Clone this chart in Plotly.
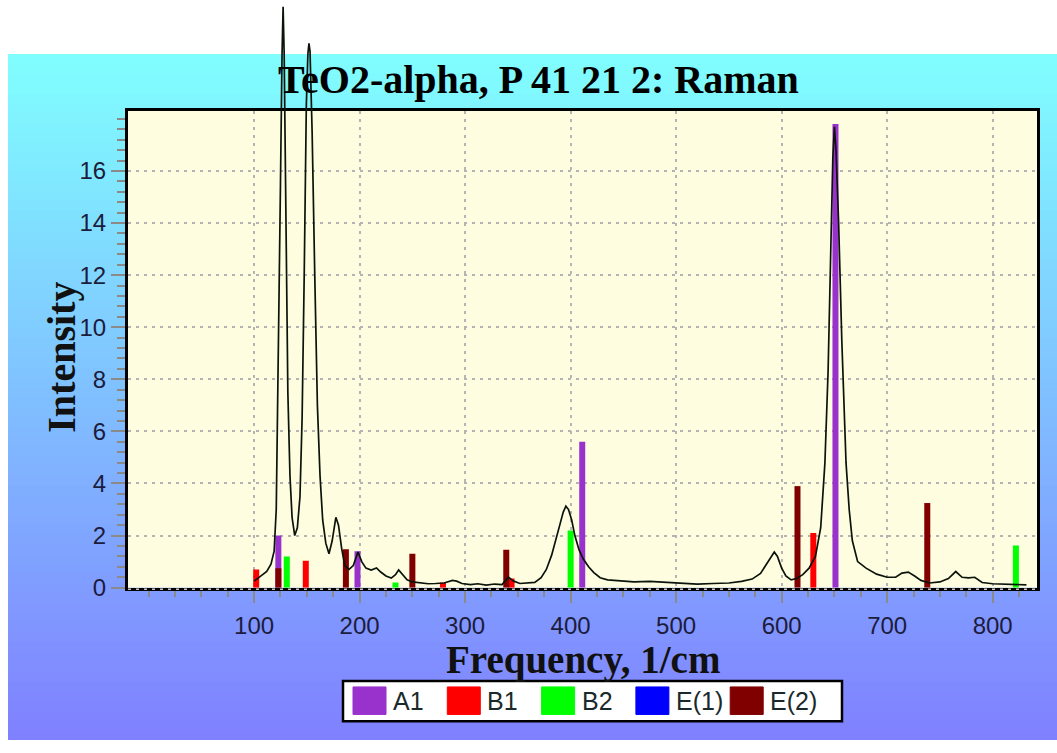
import plotly.graph_objects as go

W, H = 1057, 753

title_text = "TeO2-alpha, P 41 21 2: Raman"
x_title = "Frequency, 1/cm"
y_title = "Intensity"

spec_x = [100, 104, 108, 112, 116, 119, 121, 123, 125, 126.5, 127.5, 128.5, 130, 132, 134, 136,
          138.5, 141, 143.5, 145.5, 147.5, 149.5, 151, 152, 153, 155, 157.5, 160, 162.5, 165, 168,
          171, 174, 177.5, 180, 183, 186, 190, 194, 198.5, 202, 206, 211, 216, 220, 225, 230, 234,
          237, 241, 245, 250, 258, 265, 272, 280, 288, 292, 297, 305, 312, 320, 328, 335, 341, 346,
          352, 360, 366, 372, 377, 382, 386, 390, 393, 395.5, 398, 401, 404, 408, 412, 417, 422,
          428, 435, 445, 460, 475, 490, 505, 520, 535, 550, 562, 572, 580, 586, 590, 593, 596, 600,
          604, 609, 614, 620, 626, 632, 637, 641, 644, 646.5, 648.5, 650, 651.5, 654, 657, 661,
          664, 667, 672, 680, 690, 700, 708, 714, 720, 726, 732, 740, 750, 758, 765, 771, 777, 783,
          790, 800, 815, 832]
spec_y = [0.25, 0.38, 0.48, 0.62, 0.9, 1.4, 3.0, 8.5, 15.5, 20.5, 22.3, 20.5, 14.5, 7.5, 4.3, 2.7,
          2.0, 2.3, 3.5, 6.5, 12.0, 18.5, 20.5, 20.9, 20.6, 17.5, 12.0, 7.0, 4.3, 2.6, 1.7,
          1.3, 1.8, 2.7, 2.4, 1.5, 0.85, 0.7, 0.85, 1.37, 1.0, 0.75, 0.68, 0.76, 0.6, 0.45, 0.37, 0.5,
          0.68, 0.5, 0.3, 0.22, 0.17, 0.15, 0.16, 0.18, 0.28, 0.25, 0.16, 0.12, 0.15, 0.1, 0.14, 0.12,
          0.4, 0.25, 0.16, 0.17, 0.2, 0.38, 0.7, 1.25, 1.8, 2.45, 2.9, 3.13, 3.0, 2.6, 2.0, 1.45,
          1.1, 0.8, 0.58, 0.38, 0.3, 0.26, 0.22, 0.24, 0.2, 0.17, 0.14, 0.16, 0.18, 0.24, 0.33,
          0.55, 0.95, 1.2, 1.37, 1.2, 0.75, 0.45, 0.3, 0.35, 0.5, 0.75, 1.2, 2.3, 4.8, 8.3, 12.5,
          16.5, 17.7, 16.8, 14.0, 9.5, 4.8,
          3.0, 1.8, 1.0, 0.75, 0.52, 0.4, 0.4, 0.56, 0.6, 0.45, 0.28,
          0.18, 0.22, 0.35, 0.62, 0.4, 0.38, 0.4, 0.2, 0.15, 0.13, 0.11]

# calculated modes
series_names = ["A1", "B1", "B2", "E(1)", "E(2)"]
series_colors = ["#9932CC", "#FF0000", "#00FF00", "#0000FF", "#800000"]
a1_x = [123, 198, 411, 651]
a1_y = [2.0, 1.4, 5.6, 17.8]
b1_x = [102, 149, 279, 344, 630]
b1_y = [0.7, 1.03, 0.2, 0.35, 2.1]
b2_x = [131, 234, 400, 822]
b2_y = [1.2, 0.2, 2.2, 1.62]
e1_x = []
e1_y = []
e2_x = [123, 187, 250, 339, 615, 738]
e2_y = [0.75, 1.48, 1.3, 1.46, 3.9, 3.25]

x_ticks = [100, 200, 300, 400, 500, 600, 700, 800]
y_ticks = [0, 2, 4, 6, 8, 10, 12, 14, 16]

x_range = [-19.5, 842]
y_range = [0, 18.3]

# layout geometry (pixels)
px_left, px_right, px_top, px_bottom = 128, 1037, 113, 598
dx = [px_left / W, px_right / W]
dy = [1 - px_bottom / H, 1 - px_top / H]
y2_top = y_range[1] * (1 - dy[0]) / (dy[1] - dy[0])

fig = go.Figure()

series = [(a1_x, a1_y), (b1_x, b1_y), (b2_x, b2_y), (e1_x, e1_y), (e2_x, e2_y)]
for name, color, (xs, ys) in zip(series_names, series_colors, series):
    fig.add_trace(go.Bar(x=xs, y=ys, name=name, width=5.7,
                         marker=dict(color=color, line=dict(width=0)),
                         showlegend=False, xaxis="x", yaxis="y"))

fig.add_trace(go.Scatter(x=spec_x, y=spec_y, mode="lines",
                         line=dict(color="#0a140a", width=1.7),
                         showlegend=False, xaxis="x2", yaxis="y2"))

shapes = []
# background gradient
g_top, g_bottom, g_left = 55, H, 8
n = 70
step = (g_bottom - g_top) / n
c_top = (128, 255, 255)
c_bot = (128, 128, 255)
for i in range(n):
    t = (i + 0.5) / n
    c = tuple(round(a + (b - a) * t) for a, b in zip(c_top, c_bot))
    y0 = g_top + i * step
    y1 = y0 + step + 0.8
    shapes.append(dict(type="rect", xref="paper", yref="paper", layer="below",
                       x0=g_left / W, x1=1, y0=1 - min(y1, H) / H, y1=1 - y0 / H,
                       fillcolor="rgb(%d,%d,%d)" % c, line=dict(width=0)))
# plot area background
shapes.append(dict(type="rect", xref="paper", yref="paper", layer="below",
                   x0=dx[0], x1=dx[1], y0=dy[0], y1=dy[1],
                   fillcolor="#FFFDE0", line=dict(width=0)))
# dotted pattern on the baseline
shapes.append(dict(type="line", xref="paper", yref="paper", layer="above",
                   x0=dx[0], x1=dx[1], y0=dy[0] - 1.5 / H, y1=dy[0] - 1.5 / H,
                   line=dict(color="#c8c8c8", width=1.5, dash="3px,5px")))

# custom legend
leg_x0, leg_x1, leg_y0, leg_y1 = 343, 842, 693, 734
shapes.append(dict(type="rect", xref="paper", yref="paper", layer="above",
                   x0=leg_x0 / W, x1=leg_x1 / W, y0=1 - leg_y1 / H, y1=1 - leg_y0 / H,
                   fillcolor="white", line=dict(color="black", width=2.5)))
annotations = []
sw0, sw_step, sw_w = 353, 94.3, 33
for i, (name, color) in enumerate(zip(series_names, series_colors)):
    sx = sw0 + i * sw_step
    shapes.append(dict(type="rect", xref="paper", yref="paper", layer="above",
                       x0=sx / W, x1=(sx + sw_w) / W, y0=1 - 727 / H, y1=1 - 699 / H,
                       fillcolor=color, line=dict(color=color, width=1)))
    annotations.append(dict(text=name, xref="paper", yref="paper", x=(sx + sw_w + 5) / W,
                            y=1 - 713 / H, xanchor="left", yanchor="middle", showarrow=False,
                            font=dict(family="Liberation Sans", size=25, color="#1a2a2a")))

serif = "Liberation Serif"
annotations.append(dict(text=title_text, xref="paper", yref="paper", x=538 / W, y=1 - 81 / H,
                        xanchor="center", yanchor="middle", showarrow=False,
                        font=dict(family=serif, size=40, color="black", weight="bold")))
annotations.append(dict(text=x_title, xref="paper", yref="paper", x=583 / W, y=1 - 672 / H,
                        xanchor="center", yanchor="middle", showarrow=False,
                        font=dict(family=serif, size=39, color="#111111", weight="bold")))
annotations.append(dict(text=y_title, xref="paper", yref="paper", x=62 / W, y=1 - 364 / H,
                        xanchor="center", yanchor="middle", showarrow=False, textangle=-90,
                        font=dict(family=serif, size=40, color="#111111", weight="bold")))

tick_font = dict(family="Liberation Sans", size=24, color="#1c1c3c")
grid_common = dict(showgrid=True, gridcolor="#b4b4b4", gridwidth=2, griddash="3px,5px",
                   zeroline=False, showline=True, linecolor="black", linewidth=3, mirror=True,
                   ticks="outside", tickcolor="#8a8a8a", tickwidth=2, tickfont=tick_font)

fig.update_layout(
    width=W, height=H,
    margin=dict(l=0, r=0, t=0, b=0),
    paper_bgcolor="white", plot_bgcolor="rgba(0,0,0,0)",
    barmode="overlay",
    showlegend=False,
    shapes=shapes, annotations=annotations,
    xaxis=dict(domain=dx, range=x_range, tickvals=x_ticks, ticklen=12, anchor="y",
               ticklabelstandoff=3,
               minor=dict(dtick=25, tick0=0, ticks="outside", ticklen=6,
                          tickcolor="#8a8a8a", tickwidth=2, showgrid=False),
               **grid_common),
    yaxis=dict(domain=dy, range=y_range, tickvals=y_ticks, ticklen=14, anchor="x",
               minor=dict(dtick=0.4, tick0=0, ticks="outside", ticklen=8,
                          tickcolor="#8a8a8a", tickwidth=2, showgrid=False),
               **grid_common),
    xaxis2=dict(domain=dx, range=x_range, anchor="y2", visible=False, fixedrange=True),
    yaxis2=dict(domain=[dy[0], 1], range=[0, y2_top], anchor="x2", visible=False,
                fixedrange=True),
)

fig.write_html("out.html")
